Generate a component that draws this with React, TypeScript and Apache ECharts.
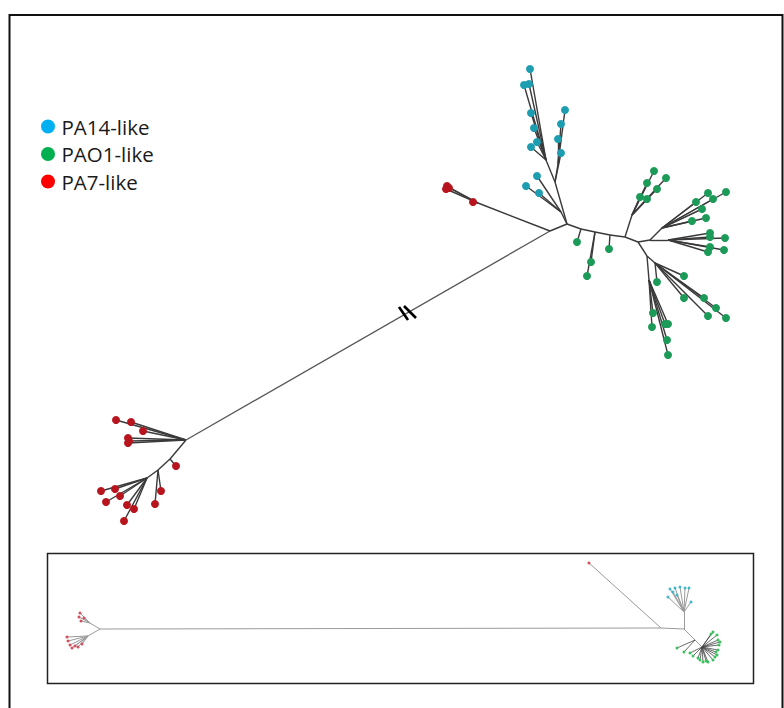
import React, { useEffect, useRef } from "react";
import * as echarts from "echarts";

// ---- Main tree: internal nodes [id, parent, x, y] (plot units) ----
const mainInternal: [string, string | null, number, number][] = [
  ["A", null, 186, 440],
  ["B", "A", 550, 231],
  ["C", "B", 567, 224],
  ["RT", "B", 478, 203],
  ["CL", "C", 561, 212],
  ["C3", "C", 555, 182],
  ["CLf", "C3", 546, 160],
  ["CR", "C3", 558, 164],
  ["G1", "C", 581, 229],
  ["G2", "G1", 595, 232],
  ["G3", "G2", 610, 235],
  ["G4", "G3", 625, 237],
  ["G5", "G4", 638, 242],
  ["GU", "G4", 632, 215],
  ["GR", "G5", 650, 240],
  ["GRa", "GR", 662, 228],
  ["GRb", "GR", 668, 240],
  ["GL", "G5", 647, 256],
  ["GLa", "GL", 655, 263],
  ["GLb", "GL", 649, 280],
  ["AL1", "A", 170, 459],
  ["AL2", "AL1", 158, 470],
  ["AL3", "AL2", 147, 478],
];

// ---- Leaves [parent, x, y] ----
const pa14Leaves: [string, number, number][] = [
  ["CL", 537, 176], ["CL", 526, 186], ["CL", 539, 193],
  ["CR", 565, 110], ["CR", 561, 124], ["CR", 558, 139], ["C3", 561, 153],
  ["CLf", 530, 69], ["CLf", 524, 85], ["CLf", 529, 84], ["CLf", 531, 113],
  ["CLf", 534, 128], ["CLf", 537, 142], ["CLf", 531, 147],
];

const pao1Leaves: [string, number, number][] = [
  ["G1", 577, 242],
  ["G2", 591, 262], ["G2", 587, 276],
  ["G3", 609, 249],
  ["GU", 654, 171], ["GU", 666, 178], ["GU", 647, 183], ["GU", 657, 189], ["GU", 640, 197], ["GU", 647, 199],
  ["GRa", 708, 193], ["GRa", 726, 192], ["GRa", 696, 202], ["GRa", 702, 209], ["GRa", 713, 199], ["GRa", 692, 221], ["GRa", 706, 218],
  ["GRb", 710, 233], ["GRb", 725, 238], ["GRb", 710, 237], ["GRb", 710, 247], ["GRb", 708, 252], ["GRb", 724, 250],
  ["GLa", 657, 282], ["GLa", 684, 276], ["GLa", 684, 298], ["GLa", 704, 298], ["GLa", 716, 308], ["GLa", 708, 316], ["GLa", 726, 318],
  ["GLb", 653, 313], ["GLb", 652, 327], ["GLb", 668, 324], ["GLb", 665, 324], ["GLb", 667, 340], ["GLb", 668, 355],
];

const pa7Leaves: [string, number, number][] = [
  ["RT", 447, 186], ["RT", 449, 188], ["RT", 446, 189], ["RT", 473, 202],
  ["A", 116, 420], ["A", 131, 422], ["A", 143, 431], ["A", 128, 438], ["A", 129, 441], ["A", 128, 443],
  ["AL1", 176, 466],
  ["AL2", 161, 491], ["AL2", 155, 504],
  ["AL3", 101, 491], ["AL3", 115, 489], ["AL3", 106, 502], ["AL3", 120, 496], ["AL3", 127, 505], ["AL3", 134, 509], ["AL3", 124, 521],
];

// Break mark on the long branch
const breakMark: [number, number, number, number][] = [
  [399, 307, 408, 320],
  [404, 306, 416, 318],
];

// ---- Inset (full-scale tree) ----
const insetInternal: [string, string | null, number, number][] = [
  ["IA", null, 100, 629],
  ["IB", "IA", 661, 628],
  ["IC", "IB", 684, 629],
  ["IAu", "IA", 90, 623],
  ["IAl", "IA", 88, 636],
  ["ICc", "IC", 684, 612],
  ["ICg", "IC", 695, 640],
  ["ICg2", "ICg", 702, 647],
];

const insetPa7: [string, number, number][] = [
  ["IB", 589, 563],
  ["IAu", 80, 613], ["IAu", 79, 617], ["IAu", 81, 621], ["IAu", 84, 618],
  ["IAl", 67, 637], ["IAl", 68, 641], ["IAl", 70, 645], ["IAl", 72, 648], ["IAl", 75, 646], ["IAl", 78, 647], ["IAl", 82, 644],
];
const insetPa14: [string, number, number][] = [
  ["ICc", 668, 597], ["ICc", 670, 589], ["ICc", 675, 588], ["ICc", 680, 587], ["ICc", 685, 588],
  ["ICc", 689, 588], ["ICc", 691, 602], ["ICc", 677, 595], ["ICc", 673, 592],
];
const insetPao1: [string, number, number][] = [
  ["ICg", 677, 648], ["ICg", 684, 652],
  ["ICg2", 713, 632], ["ICg2", 717, 635], ["ICg2", 718, 640], ["ICg2", 719, 645], ["ICg2", 718, 650],
  ["ICg2", 717, 655], ["ICg2", 713, 660], ["ICg2", 708, 662], ["ICg2", 703, 662], ["ICg2", 698, 658],
  ["ICg2", 693, 656], ["ICg2", 690, 653], ["ICg2", 720, 642], ["ICg2", 715, 657], ["ICg2", 711, 634],
  ["ICg2", 716, 652], ["ICg2", 700, 660], ["ICg2", 706, 661],
];

const legendNames = ["PA14-like", "PAO1-like", "PA7-like"];
const legendColors = ["#00b0f0", "#00b050", "#ff0000"];
const tipColors = ["#1e9db0", "#1c9a58", "#b8141d"];
const insetTipColors = ["#45b8c6", "#3cc060", "#d0505c"];

function nodeMap(list: [string, string | null, number, number][]) {
  const m: Record<string, [number, number]> = {};
  list.forEach(([id, , x, y]) => (m[id] = [x, y]));
  return m;
}

function internalEdges(list: [string, string | null, number, number][], skip: string[] = []) {
  const m = nodeMap(list);
  return list
    .filter(([id, p]) => p && !skip.includes(id))
    .map(([, p, x, y]) => ({ coords: [m[p as string], [x, y]] }));
}

function leafEdges(list: [string, string | null, number, number][], leaves: [string, number, number][]) {
  const m = nodeMap(list);
  return leaves.map(([p, x, y]) => ({ coords: [m[p], [x, y]] }));
}

export default function App() {
  const ref = useRef<HTMLDivElement>(null);
  useEffect(() => {
    if (!ref.current) return;
    const chart = echarts.init(ref.current, undefined, { renderer: "svg" });
    const mm = nodeMap(mainInternal);
    const longBranch = [{ coords: [mm["A"], mm["B"]] }];
    const mainEdges = [
      ...internalEdges(mainInternal, ["B"]),
      ...leafEdges(mainInternal, pa14Leaves),
      ...leafEdges(mainInternal, pao1Leaves),
      ...leafEdges(mainInternal, pa7Leaves),
    ];
    const insetEdges = internalEdges(insetInternal);
    const insetLeafEdges = [
      ...leafEdges(insetInternal, insetPa7),
      ...leafEdges(insetInternal, insetPa14),
    ];
    const insetGreenEdges = leafEdges(insetInternal, insetPao1);

    const tipSeries = (name: string, leaves: [string, number, number][], color: string, size: number) => ({
      name,
      type: "scatter",
      data: leaves.map(([, x, y]) => [x, y]),
      symbol: "circle",
      symbolSize: size,
      itemStyle: { color, opacity: 1 },
      silent: true,
      z: 5,
    });

    chart.setOption({
      animation: false,
      backgroundColor: "#ffffff",
      grid: { left: 0, right: 0, top: 0, bottom: 0 },
      xAxis: { type: "value", min: 0, max: 784, show: false },
      yAxis: { type: "value", min: 0, max: 708, inverse: true, show: false },
      legend: {
        orient: "vertical",
        left: 41,
        top: 116,
        padding: 0,
        itemGap: 6.5,
        itemWidth: 17,
        itemHeight: 14,
        icon: "path://M0,10 A10,10 0 1,1 20,10 A10,10 0 1,1 0,10 Z",
        selectedMode: false,
        textStyle: { fontSize: 20.5, lineHeight: 21, color: "#1a1a1a", fontFamily: "Open Sans" },
        data: legendNames.map((n, i) => ({ name: n, itemStyle: { color: legendColors[i], opacity: 1 } })),
      },
      graphic: [
        {
          type: "rect",
          shape: { x: 9.5, y: 15, width: 773, height: 720 },
          style: { fill: "none", stroke: "#111111", lineWidth: 2 },
          silent: true,
        },
        {
          type: "rect",
          shape: { x: 47.5, y: 553.5, width: 706, height: 130 },
          style: { fill: "none", stroke: "#222222", lineWidth: 1.5 },
          silent: true,
        },
      ],
      series: [
        {
          name: "longBranch",
          type: "lines",
          coordinateSystem: "cartesian2d",
          data: longBranch,
          lineStyle: { color: "#555555", width: 1.3, opacity: 1 },
          silent: true,
        },
        {
          name: "branches",
          type: "lines",
          coordinateSystem: "cartesian2d",
          data: mainEdges,
          lineStyle: { color: "#3a3a3a", width: 1.4, opacity: 1 },
          silent: true,
        },
        {
          name: "breakMark",
          type: "lines",
          coordinateSystem: "cartesian2d",
          data: breakMark.map(([a, b, c, d]) => ({ coords: [[a, b], [c, d]] })),
          lineStyle: { color: "#000000", width: 2.6, opacity: 1 },
          silent: true,
          z: 6,
        },
        {
          name: "insetBranches",
          type: "lines",
          coordinateSystem: "cartesian2d",
          data: [...insetEdges, ...insetLeafEdges],
          lineStyle: { color: "#9a9a9a", width: 1, opacity: 1 },
          silent: true,
        },
        {
          name: "insetGreenBranches",
          type: "lines",
          coordinateSystem: "cartesian2d",
          data: insetGreenEdges,
          lineStyle: { color: "#444444", width: 0.8, opacity: 1 },
          silent: true,
        },
        tipSeries(legendNames[0], pa14Leaves, tipColors[0], 8),
        tipSeries(legendNames[1], pao1Leaves, tipColors[1], 8),
        tipSeries(legendNames[2], pa7Leaves, tipColors[2], 8),
        tipSeries("insetPA14", insetPa14, insetTipColors[0], 3),
        tipSeries("insetPAO1", insetPao1, insetTipColors[1], 3),
        tipSeries("insetPA7", insetPa7, insetTipColors[2], 3),
      ],
    });
    return () => chart.dispose();
  }, []);
  return (
    <div
      ref={ref}
      style={{ position: "fixed", left: 0, top: 0, width: 784, height: 708, background: "#fff" }}
    />
  );
}
